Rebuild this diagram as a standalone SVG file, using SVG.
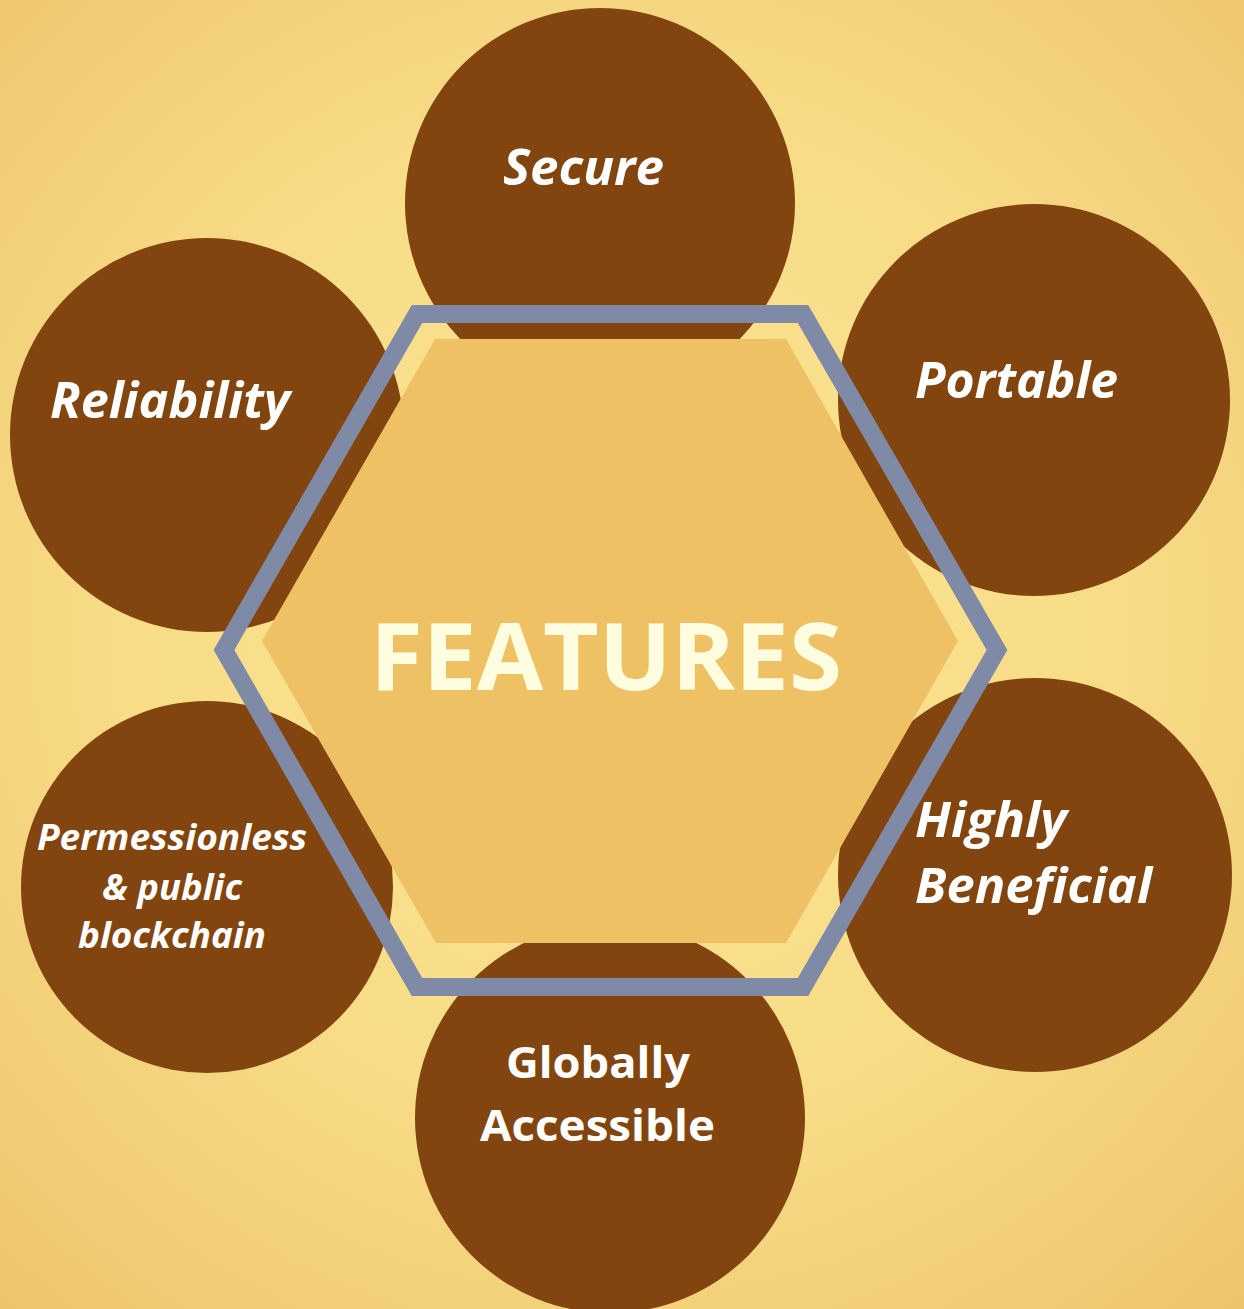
<svg xmlns="http://www.w3.org/2000/svg" width="1244" height="1309" viewBox="0 0 1244 1309">
<defs>
<radialGradient id="bg" cx="620" cy="620" r="1000" gradientUnits="userSpaceOnUse">
<stop offset="0" stop-color="#fbe695"/>
<stop offset="0.5" stop-color="#f8dc87"/>
<stop offset="0.8" stop-color="#f1cb75"/>
<stop offset="1" stop-color="#eabf67"/>
</radialGradient>
<style>
.c{fill:#83450f}
.t{fill:#ffffff;font-family:"Open Sans","Noto Sans","DejaVu Sans",sans-serif;font-weight:bold;font-style:italic}
.u{fill:#ffffff;font-family:"Open Sans","Noto Sans","DejaVu Sans",sans-serif;font-weight:bold}
</style>
</defs>
<rect width="1244" height="1309" fill="url(#bg)"/>
<g id="node-secure"><circle class="c" cx="600" cy="203" r="195"/></g>
<g id="node-portable"><circle class="c" cx="1034" cy="400" r="196"/></g>
<g id="node-reliability"><circle class="c" cx="207" cy="435" r="197"/></g>
<g id="node-permissionless"><circle class="c" cx="207" cy="887" r="186"/></g>
<g id="node-beneficial"><circle class="c" cx="1035" cy="875" r="197"/></g>
<g id="node-global"><circle class="c" cx="610" cy="1118" r="195"/></g>
<g id="node-features">
<polygon points="262,641 435,339 786,339 958,641 786,943 436,943" fill="#eec264"/>
<polygon points="224,650 417,314 803,314 997,650 803,987 417,987" fill="none" stroke="#7f8aa6" stroke-width="18" stroke-linejoin="miter"/>
<text x="370" y="690" font-family="'Open Sans','Noto Sans',sans-serif" font-weight="bold" font-size="93" fill="#fffde0" textLength="472" lengthAdjust="spacingAndGlyphs">FEATURES</text>
</g>
<g id="labels">
<text class="t" x="503" y="185" font-size="50" textLength="161" lengthAdjust="spacingAndGlyphs">Secure</text>
<text class="t" x="915" y="398" font-size="50" textLength="203" lengthAdjust="spacingAndGlyphs">Portable</text>
<text class="t" x="50" y="418" font-size="50" textLength="240" lengthAdjust="spacingAndGlyphs">Reliability</text>
<text class="t" x="915" y="837" font-size="48" textLength="152" lengthAdjust="spacingAndGlyphs">Highly</text>
<text class="t" x="915" y="903" font-size="48" textLength="237" lengthAdjust="spacingAndGlyphs">Beneficial</text>
<text class="t" x="37" y="850" font-size="35" textLength="270" lengthAdjust="spacingAndGlyphs">Permessionless</text>
<text class="t" x="102" y="900" font-size="35" textLength="140" lengthAdjust="spacingAndGlyphs">&amp; public</text>
<text class="t" x="78" y="948" font-size="35" textLength="188" lengthAdjust="spacingAndGlyphs">blockchain</text>
<text class="u" x="506" y="1078" font-size="43" textLength="184" lengthAdjust="spacingAndGlyphs">Globally</text>
<text class="u" x="480" y="1141" font-size="43" textLength="235" lengthAdjust="spacingAndGlyphs">Accessible</text>
</g>
<g id="connectors"></g>
</svg>
